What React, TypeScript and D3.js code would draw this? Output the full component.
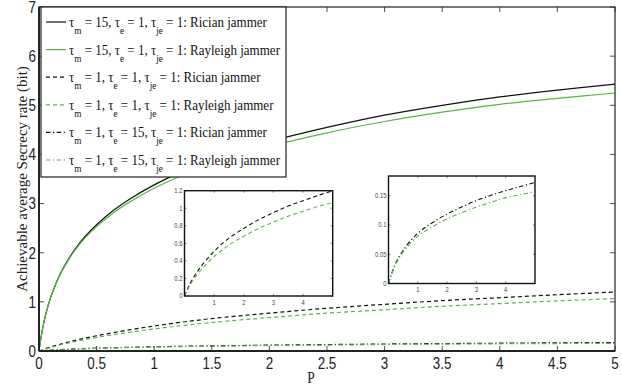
import React from "react";
import * as d3 from "d3";

// ---- Data ----
const pSolid = [0, 0.01, 0.03, 0.06, 0.1, 0.15, 0.2, 0.3, 0.4, 0.5, 0.65, 0.8, 1.0, 1.25, 1.5, 2.0, 2.5, 3.0, 3.5, 4.0, 4.5, 5.0];
const ricianHigh = [0, 0.16, 0.44, 0.76, 1.08, 1.39, 1.64, 2.03, 2.33, 2.57, 2.87, 3.11, 3.38, 3.66, 3.9, 4.26, 4.55, 4.8, 5.0, 5.17, 5.31, 5.43];
const rayleighHigh = [0, 0.16, 0.44, 0.76, 1.08, 1.39, 1.63, 2.01, 2.3, 2.53, 2.82, 3.05, 3.31, 3.58, 3.81, 4.16, 4.44, 4.67, 4.86, 5.02, 5.14, 5.25];

const pLow = [0, 0.1, 0.25, 0.5, 1, 1.5, 2, 2.5, 3, 3.5, 4, 4.5, 5];
const ricianEqual = [0, 0.08, 0.18, 0.31, 0.51, 0.66, 0.77, 0.87, 0.95, 1.025, 1.085, 1.145, 1.2];
const rayleighEqual = [0, 0.07, 0.16, 0.275, 0.45, 0.58, 0.68, 0.77, 0.84, 0.91, 0.965, 1.02, 1.065];
const ricianEve = [0, 0.016, 0.035, 0.057, 0.086, 0.104, 0.119, 0.131, 0.142, 0.151, 0.159, 0.166, 0.173];
const rayleighEve = [0, 0.015, 0.033, 0.054, 0.081, 0.097, 0.111, 0.121, 0.131, 0.139, 0.147, 0.152, 0.157];

const xTicks = [0, 0.5, 1, 1.5, 2, 2.5, 3, 3.5, 4, 4.5, 5];
const yTicks = [0, 1, 2, 3, 4, 5, 6, 7];
const inset1YTicks = [0, 0.2, 0.4, 0.6, 0.8, 1, 1.2];
const inset2YTicks = [0, 0.05, 0.1, 0.15];
const insetXTicks = [1, 2, 3, 4];

const legendItems = [
  { m: "15", e: "1", je: "1", jam: "Rician jammer" },
  { m: "15", e: "1", je: "1", jam: "Rayleigh jammer" },
  { m: "1", e: "1", je: "1", jam: "Rician jammer" },
  { m: "1", e: "1", je: "1", jam: "Rayleigh jammer" },
  { m: "1", e: "15", je: "1", jam: "Rician jammer" },
  { m: "1", e: "15", je: "1", jam: "Rayleigh jammer" },
];

const BLACK = "#111";
const GREEN = "#55b845";
const DASH = "4,3";
const DASHDOT = "4.5,2.5,1.2,2.5";

const styles = [
  { color: BLACK, dash: undefined },
  { color: GREEN, dash: undefined },
  { color: BLACK, dash: DASH },
  { color: GREEN, dash: DASH },
  { color: BLACK, dash: DASHDOT },
  { color: GREEN, dash: DASHDOT },
];

const series = [
  { p: pSolid, v: ricianHigh },
  { p: pSolid, v: rayleighHigh },
  { p: pLow, v: ricianEqual },
  { p: pLow, v: rayleighEqual },
  { p: pLow, v: ricianEve },
  { p: pLow, v: rayleighEve },
];

const SANS = "'Liberation Sans', Arial, sans-serif";
const SERIF = "'Liberation Serif', 'Times New Roman', serif";
const SQ = 0.84; // horizontal squeeze of glyphs in the reference

function Inset({ x0, x1, y0, y1, yMax, yTicks, idx }: any) {
  const xs = d3.scaleLinear().domain([0, 5]).range([x0, x1]);
  const ys = d3.scaleLinear().domain([0, yMax]).range([y1, y0]);
  const clipId = "clip" + idx[0];
  return (
    <g>
      <defs>
        <clipPath id={clipId}>
          <rect x={x0} y={y0} width={x1 - x0} height={y1 - y0} />
        </clipPath>
      </defs>
      <rect x={x0} y={y0} width={x1 - x0} height={y1 - y0} fill="#fff" />
      <g clipPath={`url(#${clipId})`}>
        {idx.map((i: number) => {
          const s = series[i];
          const line = d3
            .line<number>()
            .x((_, k) => xs(s.p[k]))
            .y((d) => ys(d))
            .curve(d3.curveCatmullRom.alpha(0.5));
          return (
            <path key={i} d={line(s.v) || ""} fill="none" stroke={styles[i].color} strokeWidth={1.1} strokeDasharray={styles[i].dash} />
          );
        })}
      </g>
      {yTicks.map((t: number) => (
        <g key={"y" + t}>
          <line x1={x0} x2={x0 + 2} y1={ys(t)} y2={ys(t)} stroke="#333" strokeWidth={0.6} />
          <line x1={x1} x2={x1 - 2} y1={ys(t)} y2={ys(t)} stroke="#333" strokeWidth={0.6} />
          <text transform={`translate(${x0 - 2},${ys(t) + 2.4}) scale(${SQ},1)`} fontSize={7} textAnchor="end" fill="#444" fontFamily={SANS}>
            {String(t)}
          </text>
        </g>
      ))}
      {insetXTicks.map((t) => (
        <g key={"x" + t}>
          <line x1={xs(t)} x2={xs(t)} y1={y1} y2={y1 - 2} stroke="#333" strokeWidth={0.6} />
          <line x1={xs(t)} x2={xs(t)} y1={y0} y2={y0 + 2} stroke="#333" strokeWidth={0.6} />
          <text transform={`translate(${xs(t)},${y1 + 8.5}) scale(${SQ},1)`} fontSize={7} textAnchor="middle" fill="#444" fontFamily={SANS}>
            {t}
          </text>
        </g>
      ))}
      <rect x={x0} y={y0} width={x1 - x0} height={y1 - y0} fill="none" stroke="#111" strokeWidth={1.4} />
    </g>
  );
}

export default function App() {
  const W = 622, H = 385;
  const L = 39, R = 615, T = 7, B = 351;
  const x = d3.scaleLinear().domain([0, 5]).range([L, R]);
  const y = d3.scaleLinear().domain([0, 7]).range([B, T]);

  const legX = 41, legY = 7, legW = 245, legH = 170;
  const rowH = 27.6;

  return (
    <svg width={W} height={H} style={{ position: "absolute", left: 0, top: 0 }} fontFamily={SERIF}>
      <rect width={W} height={H} fill="#fff" />
      {/* main lines */}
      {series.map((s, i) => {
        const line = d3
          .line<number>()
          .x((_, k) => x(s.p[k]))
          .y((d) => y(d))
          .curve(d3.curveCatmullRom.alpha(0.5));
        return (
          <path key={i} d={line(s.v) || ""} fill="none" stroke={styles[i].color} strokeWidth={1.2} strokeDasharray={styles[i].dash} />
        );
      })}
      {/* ticks */}
      {xTicks.map((t) => (
        <g key={"xt" + t}>
          <line x1={x(t)} x2={x(t)} y1={B} y2={B - 5} stroke="#222" strokeWidth={0.8} />
          <line x1={x(t)} x2={x(t)} y1={T} y2={T + 5} stroke="#222" strokeWidth={0.8} />
          <text transform={`translate(${x(t)},369) scale(${SQ},1)`} fontSize={16} textAnchor="middle" fill="#222" fontFamily={SANS}>
            {t}
          </text>
        </g>
      ))}
      {yTicks.map((t) => (
        <g key={"yt" + t}>
          <line x1={L} x2={L + 5} y1={y(t)} y2={y(t)} stroke="#222" strokeWidth={0.8} />
          <line x1={R} x2={R - 5} y1={y(t)} y2={y(t)} stroke="#222" strokeWidth={0.8} />
          <text transform={`translate(${L - 3},${y(t) + 5.8}) scale(${SQ},1)`} fontSize={16} textAnchor="end" fill="#222" fontFamily={SANS}>
            {t}
          </text>
        </g>
      ))}
      <rect x={L} y={T} width={R - L} height={B - T} fill="none" stroke="#222" strokeWidth={1.2} />
      <line x1={L} x2={R} y1={B} y2={B} stroke="#222" strokeWidth={2} />
      <line x1={L} x2={L} y1={T} y2={B} stroke="#222" strokeWidth={2} />

      {/* axis labels */}
      <text transform={`translate(311,383) scale(${SQ},1)`} fontSize={16} textAnchor="middle" fill="#222">
        P
      </text>
      <text transform={`translate(27,${(T + B) / 2}) rotate(-90)`} fontSize={15} textAnchor="middle" fill="#222">
        Achievable average Secrecy rate (bit)
      </text>

      {/* insets */}
      <Inset x0={184.5} x1={332.7} y0={190.7} y1={296} yMax={1.2} yTicks={inset1YTicks} idx={[2, 3]} />
      <Inset x0={388.5} x1={535} y0={176} y1={283.5} yMax={0.184} yTicks={inset2YTicks} idx={[4, 5]} />

      {/* legend */}
      <rect x={legX} y={legY} width={legW} height={legH} fill="#fff" stroke="#222" strokeWidth={1.2} />
      {legendItems.map((it, i) => {
        const cy = legY + 15 + i * rowH;
        return (
          <g key={"lg" + i}>
            <line x1={46} x2={66} y1={cy} y2={cy} stroke={styles[i].color} strokeWidth={1.2} strokeDasharray={styles[i].dash} />
            <text transform={`translate(69,${cy + 5}) scale(${SQ},1)`} fontSize={15.5} fill="#111">
              τ<tspan dy={7} fontSize={11}>m</tspan>
              <tspan dy={-7}>{` = ${it.m}, τ`}</tspan>
              <tspan dy={7} fontSize={11}>e</tspan>
              <tspan dy={-7}>{` = ${it.e}, τ`}</tspan>
              <tspan dy={7} fontSize={11}>je</tspan>
              <tspan dy={-7}>{` = ${it.je}: ${it.jam}`}</tspan>
            </text>
          </g>
        );
      })}
    </svg>
  );
}
